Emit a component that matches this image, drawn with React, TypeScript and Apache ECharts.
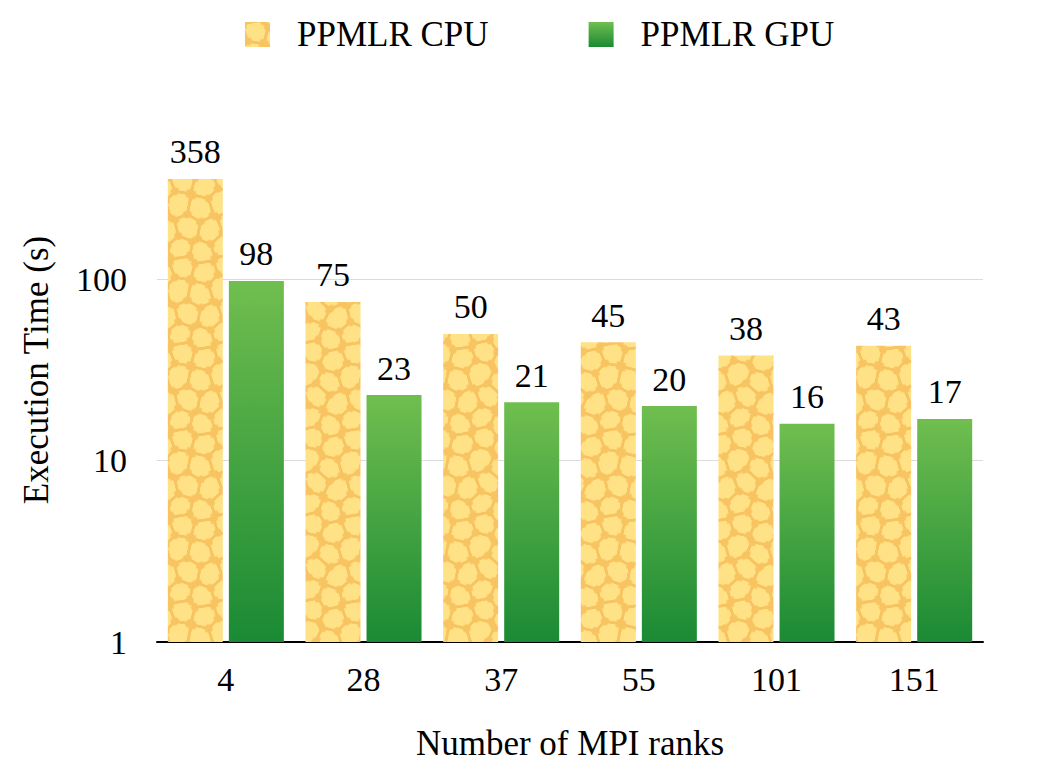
import React, { useEffect, useRef } from "react";
import * as echarts from "echarts";

const categories = ["4", "28", "37", "55", "101", "151"];
const cpuValues = [358, 75, 50, 45, 38, 43];
const gpuValues = [98, 23, 21, 20, 16, 17];
const seriesNames = ["PPMLR CPU", "PPMLR GPU"];
const xTitle = "Number of MPI ranks";
const yTitle = "Execution Time (s)";

const FONT = "'Liberation Serif', 'Times New Roman', serif";

// fixed seed points for a tileable cell (voronoi-like) texture, 64-unit tile
const seeds: [number, number][] = [
  [8, 6], [24, 10], [41, 5], [56, 12],
  [5, 24], [20, 27], [37, 22], [52, 29],
  [12, 41], [28, 44], [44, 38], [59, 45],
  [6, 57], [22, 60], [38, 55], [53, 61],
];

function makeCellPattern(): HTMLCanvasElement {
  const scale = 1.35;
  const size = Math.round(64 * scale);
  const pts = seeds.map(([x, y]) => [x * scale, y * scale]);
  const c = document.createElement("canvas");
  c.width = size;
  c.height = size;
  const ctx = c.getContext("2d")!;
  const img = ctx.createImageData(size, size);
  for (let y = 0; y < size; y++) {
    for (let x = 0; x < size; x++) {
      let d1 = 1e9, d2 = 1e9, d3 = 1e9;
      for (const [sx, sy] of pts) {
        for (let ox = -1; ox <= 1; ox++) {
          for (let oy = -1; oy <= 1; oy++) {
            const dx = x + 0.5 - (sx + ox * size);
            const dy = y + 0.5 - (sy + oy * size);
            const d = Math.sqrt(dx * dx + dy * dy);
            if (d < d1) { d3 = d2; d2 = d1; d1 = d; }
            else if (d < d2) { d3 = d2; d2 = d; }
            else if (d < d3) { d3 = d; }
          }
        }
      }
      const e1 = d2 - d1;
      const e2 = (d3 - d1) / 2.4;
      const edge = Math.min(e1, e2);
      const i = (y * size + x) * 4;
      const t = edge < 2.3 ? 1 : edge < 3.5 ? (3.5 - edge) / 1.2 : 0;
      img.data[i] = Math.round(255 * (1 - t) + 248 * t);
      img.data[i + 1] = Math.round(226 * (1 - t) + 196 * t);
      img.data[i + 2] = Math.round(134 * (1 - t) + 98 * t);
      img.data[i + 3] = 255;
    }
  }
  ctx.putImageData(img, 0, 0);
  return c;
}

export default function App() {
  const ref = useRef<HTMLDivElement>(null);
  useEffect(() => {
    document.body.style.margin = "0";
    if (!ref.current) return;
    const chart = echarts.init(ref.current, undefined, { renderer: "svg" });
    const pattern = makeCellPattern();
    const labelStyle = {
      show: true,
      position: "top" as const,
      distance: 10,
      color: "#000",
      fontFamily: FONT,
      fontSize: 34,
    };
    chart.setOption({
      animation: false,
      textStyle: { fontFamily: FONT },
      legend: {
        top: 12,
        left: 240,
        itemWidth: 25,
        itemHeight: 25,
        itemGap: 100,
        icon: "rect",
        textStyle: { fontFamily: FONT, fontSize: 35, color: "#000", padding: [0, 0, 0, 22] },
        data: seriesNames,
      },
      grid: { left: 157, right: 79, top: 98, bottom: 136, containLabel: false },
      xAxis: {
        type: "category",
        data: categories,
        axisLine: { show: true, lineStyle: { color: "#000", width: 2 } },
        axisTick: { show: false },
        axisLabel: { color: "#000", fontFamily: FONT, fontSize: 34, margin: 20 },
        name: xTitle,
        nameLocation: "middle",
        nameGap: 84,
        nameTextStyle: { color: "#000", fontFamily: FONT, fontSize: 35 },
      },
      yAxis: {
        type: "log",
        logBase: 10,
        min: 1,
        max: 1000,
        axisLine: { show: false },
        axisTick: { show: false },
        axisLabel: { color: "#000", fontFamily: FONT, fontSize: 34, margin: 30, showMaxLabel: false },
        splitLine: { show: true, showMinLine: false, showMaxLine: false, lineStyle: { color: "#dcdcdc", width: 1 } },
        name: yTitle,
        nameLocation: "middle",
        nameGap: 103,
        nameTextStyle: { color: "#000", fontFamily: FONT, fontSize: 35 },
      },
      series: [
        {
          name: seriesNames[0],
          type: "bar",
          data: cpuValues,
          barWidth: 55,
          barGap: "11%",
          itemStyle: {
            color: { image: pattern, repeat: "repeat" } as any,
          },
          label: labelStyle,
        },
        {
          name: seriesNames[1],
          type: "bar",
          data: gpuValues,
          barWidth: 55,
          barGap: "11%",
          itemStyle: {
            color: new echarts.graphic.LinearGradient(0, 0, 0, 1, [
              { offset: 0, color: "#70be4f" },
              { offset: 1, color: "#1a8a34" },
            ]),
          },
          label: labelStyle,
        },
      ],
    });
    return () => chart.dispose();
  }, []);
  return <div ref={ref} style={{ width: 1062, height: 778 }} />;
}
